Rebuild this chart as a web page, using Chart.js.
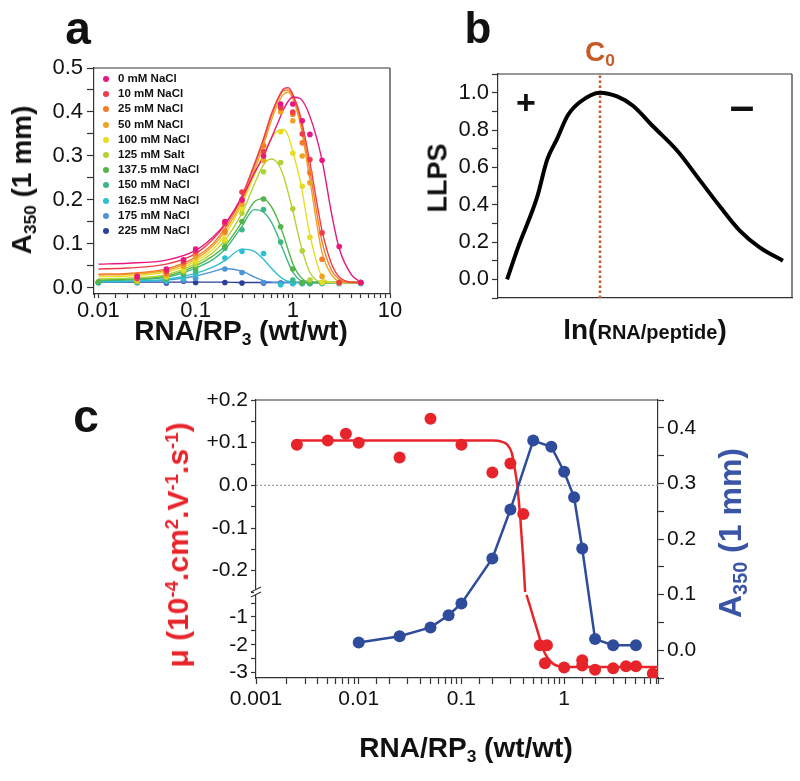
<!DOCTYPE html>
<html><head><meta charset="utf-8">
<script src="https://cdn.jsdelivr.net/npm/chart.js@4.4.1/dist/chart.umd.min.js"></script>
<style>
body{margin:0;background:#fff;width:800px;height:781px;position:relative;overflow:hidden;font-family:"Liberation Sans",Arial,sans-serif;color:#111;}
canvas{position:absolute;}
.t{position:absolute;white-space:nowrap;line-height:1;font-weight:bold;transform:translate(-50%,-50%);}
.r{transform:translate(-50%,-50%) rotate(-90deg);}
sub{font-size:0.62em;vertical-align:-0.28em;line-height:0}
sup{font-size:0.62em;vertical-align:0.55em;line-height:0}
#leg{position:absolute;left:100px;top:71px;font-weight:bold;font-size:11.5px;}
#leg div{height:15.2px;line-height:15.2px;position:relative;padding-left:18px;white-space:nowrap;}
#leg span.d{position:absolute;left:3px;top:5px;width:6px;height:6px;border-radius:50%;}
</style></head>
<body>
<canvas id="ca" width="420" height="345" style="left:0;top:0"></canvas>
<canvas id="cb" width="400" height="345" style="left:400px;top:0"></canvas>
<canvas id="cc" width="800" height="401" style="left:0;top:380px"></canvas>
<div id="leg"></div>

<div class="t" style="left:78px;top:28px;font-size:46px">a</div>
<div class="t" style="left:478px;top:28px;font-size:44px">b</div>
<div class="t" style="left:86px;top:416px;font-size:46px">c</div>

<div class="t r" style="left:22px;top:180px;font-size:28px">A<sub>350</sub> (1 mm)</div>
<div class="t" style="left:241px;top:331px;font-size:28px">RNA/RP<sub>3</sub> (wt/wt)</div>

<div class="t" style="left:600px;top:52px;font-size:28px;color:#c55a28">C<sub>0</sub></div>
<div class="t" style="left:526px;top:102px;font-size:34px">+</div>
<div class="t" style="left:742px;top:106px;font-size:44px">–</div>
<div class="t r" style="left:438px;top:178px;font-size:27px">LLPS</div>
<div class="t" style="left:645px;top:330px;"><span style="font-size:28px">ln(</span><span style="font-size:20px">RNA/peptide</span><span style="font-size:28px">)</span></div>

<div class="t r" style="left:178px;top:545px;font-size:30px;color:#e8242b">μ (10<sup>-4</sup>.cm<sup>2</sup>.V<sup>-1</sup>.s<sup>-1</sup>)</div>
<div class="t r" style="left:730px;top:533px;font-size:32px;color:#3a55a5">A<sub>350</sub> (1 mm)</div>
<div class="t" style="left:466px;top:748px;font-size:28px">RNA/RP<sub>3</sub> (wt/wt)</div>

<script>
// ---------- Panel a data ----------
const saltLabels = ['0 mM NaCl','10 mM NaCl','25 mM NaCl','50 mM NaCl','100 mM NaCl','125 mM Salt','137.5 mM NaCl','150 mM NaCl','162.5 mM NaCl','175 mM NaCl','225 mM NaCl'];
const saltColors = ['#e8177f','#ee3d4a','#f47b2a','#efa324','#e6de22','#b3d235','#55b548','#3db784','#2ebfd0','#4b94d8','#2e3f98'];
const ratioA = [0.01,0.025,0.05,0.075,0.1,0.2,0.3,0.5,0.75,1,1.25,1.5,2,3,5];
const pts0   = [null,0.026,0.043,0.064,0.088,0.151,0.200,0.300,0.418,0.418,0.380,0.349,0.290,0.094,0.012];
const pts10  = [null,0.022,0.038,0.060,0.083,0.146,0.218,0.310,0.410,0.400,0.350,0.292,0.125,0.012,0.012];
const pts25  = [null,0.026,0.033,0.056,0.078,0.129,0.198,0.323,0.409,0.395,0.330,0.262,0.065,0.012,0.012];
const pts50  = [null,0.018,0.030,0.049,0.070,0.125,0.190,0.290,0.400,0.380,0.300,0.239,0.026,0.012,0.012];
const pts100 = [null,0.016,0.027,0.041,0.060,0.110,0.180,0.290,0.355,0.306,0.231,0.115,0.012,0.012,0.012];
const pts125 = [null,0.015,0.024,0.038,0.053,0.106,0.170,0.264,0.285,0.180,0.084,0.018,0.012,0.012,0.012];
const pts137 = [0.014,0.014,0.022,0.035,0.045,0.094,0.151,0.202,0.139,0.043,0.012,0.012,0.012,0.012,0.012];
const pts150 = [0.012,0.013,0.020,0.030,0.037,0.090,0.132,0.178,0.104,0.018,0.012,0.012,0.012,0.012,0.012];
const pts162 = [0.012,0.012,0.016,0.022,0.030,0.068,0.083,0.078,0.007,0.010,0.010,0.010,0.010,0.010,0.010];
const pts175 = [0.012,0.012,0.014,0.016,0.022,0.043,0.035,0.012,0.010,0.010,0.010,0.010,0.010,0.010,0.010];
const pts225 = [0.012,0.012,0.011,0.015,0.012,0.012,0.011,0.011,0.011,0.011,0.011,0.011,0.011,0.011,0.011];

const fitX   = [0.01,0.02,0.05,0.1,0.15,0.2,0.3,0.4,0.5,0.6,0.7,0.8,0.9,1.0,1.2,1.5,2,2.5,3,4,5];
const fit0   = [0.054,0.056,0.063,0.085,0.115,0.145,0.205,0.26,0.30,0.34,0.375,0.405,0.425,0.434,0.43,0.39,0.29,0.17,0.09,0.03,0.013];
const fit10  = [0.043,0.045,0.054,0.078,0.11,0.143,0.21,0.28,0.34,0.395,0.43,0.452,0.455,0.44,0.39,0.285,0.13,0.055,0.025,0.013,0.012];
const fit25  = [0.031,0.033,0.043,0.07,0.1,0.135,0.205,0.275,0.335,0.39,0.427,0.448,0.45,0.435,0.38,0.265,0.105,0.04,0.02,0.012,0.012];
const fit50  = [0.029,0.031,0.04,0.065,0.095,0.128,0.197,0.265,0.325,0.38,0.418,0.44,0.445,0.43,0.37,0.245,0.08,0.03,0.015,0.012,0.012];
const fit100 = [0.025,0.027,0.036,0.06,0.088,0.12,0.19,0.255,0.305,0.34,0.357,0.36,0.345,0.31,0.24,0.12,0.025,0.013,0.012,0.012,0.012];
const fit125 = [0.02,0.022,0.03,0.055,0.08,0.108,0.17,0.235,0.28,0.293,0.283,0.255,0.215,0.175,0.1,0.035,0.013,0.012,0.012,0.012,0.012];
const fit137 = [0.018,0.02,0.027,0.05,0.072,0.095,0.15,0.195,0.203,0.185,0.155,0.12,0.085,0.055,0.025,0.013,0.012,0.012,0.012,0.012,0.012];
const fit150 = [0.017,0.018,0.024,0.045,0.064,0.087,0.14,0.178,0.172,0.15,0.118,0.085,0.057,0.036,0.017,0.012,0.012,0.012,0.012,0.012,0.012];
const fit162 = [0.014,0.015,0.019,0.033,0.047,0.062,0.088,0.083,0.065,0.045,0.03,0.02,0.015,0.013,0.012,0.012,0.012,0.012,0.012,0.012,0.012];
const fit175 = [0.013,0.014,0.018,0.027,0.037,0.044,0.038,0.025,0.016,0.013,0.012,0.012,0.012,0.012,0.012,0.012,0.012,0.012,0.012,0.012,0.012];
const fit225 = [0.013,0.013,0.013,0.013,0.013,0.013,0.012,0.012,0.012,0.012,0.012,0.012,0.012,0.012,0.012,0.012,0.012,0.012,0.012,0.012,0.012];
const aTicksY = [0,0.1,0.2,0.3,0.4,0.5];

// ---------- Panel b data ----------
const lnRatio = [0.31,0.68,1.33,1.67,2.0,2.38,2.79,3.47,4.05,4.59,5.27,6.09,6.87,7.55,8.23,8.91,9.69];
const llps    = [0,0.17,0.44,0.64,0.75,0.88,0.95,1.0,0.98,0.93,0.82,0.69,0.53,0.39,0.26,0.17,0.10];
const c0 = 3.47;

// ---------- Panel c data ----------
const muRatioHi = [0.0025,0.005,0.0075,0.01,0.025,0.05,0.1,0.2,0.3,0.4];
const muHi      = [0.095,0.105,0.121,0.100,0.065,0.156,0.095,0.030,0.051,-0.067];
const muRatioLo = [0.58,0.68,0.65,1,1.5,1.5,2,3,4,5,7.3];
const muLo      = [-2.02,-2.02,-2.67,-2.82,-2.56,-2.75,-2.9,-2.85,-2.78,-2.78,-3.04];
const muFitXHi  = [0.0024,0.1,0.2,0.25,0.28,0.31,0.33,0.35,0.375,0.4,0.417];
const muFitHi   = [0.105,0.105,0.105,0.102,0.095,0.075,0.04,0.0,-0.08,-0.175,-0.25];
const muFitXLo  = [0.43,0.46,0.5,0.54,0.585,0.63,0.68,0.79,0.9,1.2,8.2];
const muFitLo   = [-0.2,-0.55,-1.0,-1.4,-1.84,-2.2,-2.44,-2.7,-2.78,-2.8,-2.8];
const a350Ratio = [0.01,0.025,0.05,0.075,0.1,0.2,0.3,0.5,0.75,1,1.25,1.5,2,3,5];
const a350      = [0.014,0.025,0.041,0.063,0.084,0.165,0.253,0.377,0.366,0.321,0.275,0.183,0.02,0.009,0.009];
const cXmin = 0.001, cXmax = 8.2;

// ---------- helpers ----------
Chart.defaults.font.family = '"Liberation Sans", Arial, sans-serif';
Chart.defaults.color = '#111';
const AX = '#333';
function fix(w, h){ return s => { if (w !== undefined) s.width = w; if (h !== undefined) s.height = h; s.paddingLeft=0; s.paddingRight=0; s.paddingTop=0; s.paddingBottom=0; }; }
function decadeLabel(v){ const l=Math.log10(v), r=Math.round(l); if (Math.abs(l-r)>1e-6) return ''; return r<0 ? Math.pow(10,r).toFixed(-r) : String(Math.pow(10,r)); }
function tenth(v){ const k=Math.round(v*10); return Math.abs(v*10-k)<1e-6 ? k : null; }
const zip = (xs, ys) => xs.map((x,i)=>({x, y: ys[i]}));
const framePlugin = { id:'frame', afterDraw(chart, args, opts){
  const {ctx, chartArea:a} = chart; ctx.save(); ctx.strokeStyle=AX; ctx.lineWidth=1.2; ctx.beginPath();
  (opts.sides||[]).forEach(s=>{ if(s==='top'){ctx.moveTo(a.left,a.top);ctx.lineTo(a.right,a.top);} if(s==='right'){ctx.moveTo(a.right,a.top);ctx.lineTo(a.right,a.bottom);} });
  ctx.stroke(); ctx.restore(); } };
const breakPlugin = { id:'brk', afterDraw(chart){
  const s = chart.scales.yU; if(!s) return; const {ctx} = chart; const x = chart.chartArea.left, y = s.bottom;
  ctx.save(); ctx.fillStyle='#fff'; ctx.fillRect(x-2,y-3,4,6);
  ctx.strokeStyle=AX; ctx.lineWidth=1.1;
  [-2.5,2.5].forEach(d=>{ ctx.beginPath(); ctx.moveTo(x-5,y+d+2.5); ctx.lineTo(x+5,y+d-2.5); ctx.stroke(); });
  ctx.restore(); } };
const base = { responsive:false, animation:false, devicePixelRatio:1, events:[] };

// ---------- legend (panel a) ----------
const leg = document.getElementById('leg');
saltLabels.forEach((l,i)=>{ const d=document.createElement('div'); d.innerHTML='<span class="d" style="background:'+saltColors[i]+'"></span>'+l; leg.appendChild(d); });

// ---------- Panel a ----------
const ptsAll = [pts0,pts10,pts25,pts50,pts100,pts125,pts137,pts150,pts162,pts175,pts225];
const fitAll = [fit0,fit10,fit25,fit50,fit100,fit125,fit137,fit150,fit162,fit175,fit225];
const dsA = [];
ptsAll.forEach((p,i)=>dsA.push({label:saltLabels[i], data:zip(ratioA,p).filter(d=>d.y!==null), backgroundColor:saltColors[i], borderWidth:0, pointRadius:2.8}));
fitAll.forEach((f,i)=>dsA.push({label:saltLabels[i]+' fit', data:zip(fitX,f), showLine:true, borderColor:saltColors[i], borderWidth:1.4, pointRadius:0, cubicInterpolationMode:'monotone'}));
new Chart(document.getElementById('ca'), {
  type:'scatter', data:{datasets:dsA}, plugins:[framePlugin],
  options:{...base, layout:{padding:{top:68,right:30,left:0,bottom:0}},
    plugins:{legend:{display:false}, tooltip:{enabled:false}, frame:{sides:['top','right']}},
    scales:{
      x:{type:'logarithmic', min:0.009, max:10, afterFit:fix(undefined,51),
        ticks:{autoSkip:false, maxRotation:0, font:{size:22}, color:'#111', padding:0, callback:decadeLabel},
        grid:{drawOnChartArea:false, tickLength:4, tickColor:AX, tickWidth:1.2}, border:{color:AX, width:1.2}},
      y:{min:-0.014, max:0.5, afterFit:fix(94),
        ticks:{autoSkip:false, stepSize:0.05, includeBounds:false, font:{size:22}, color:'#111', padding:4,
          callback:v=>{ const k=tenth(v); return (k!==null && aTicksY.includes(k/10)) ? (k/10).toFixed(1) : ''; }},
        grid:{drawOnChartArea:false, tickLength:7, tickColor:AX, tickWidth:1.2}, border:{color:AX, width:1.2}}
    }}
});

// ---------- Panel b ----------
new Chart(document.getElementById('cb'), {
  type:'scatter', plugins:[framePlugin],
  data:{datasets:[
    {label:'LLPS', data:zip(lnRatio,llps), showLine:true, borderColor:'#000', borderWidth:4, pointRadius:0, cubicInterpolationMode:'monotone'},
    {label:'C0', data:[{x:c0,y:-0.1},{x:c0,y:1.1}], showLine:true, borderColor:'#c55a28', borderWidth:2.5, borderDash:[2.5,2.5], pointRadius:0}
  ]},
  options:{...base, layout:{padding:{top:74,right:8,left:0,bottom:0}},
    plugins:{legend:{display:false}, tooltip:{enabled:false}, frame:{sides:['top','right']}},
    scales:{
      x:{type:'linear', min:0, max:10, afterFit:fix(undefined,47), ticks:{display:false},
        grid:{drawOnChartArea:false, drawTicks:false}, border:{color:AX, width:1.2}},
      y:{min:-0.1, max:1.1, afterFit:fix(98),
        ticks:{autoSkip:false, stepSize:0.1, font:{size:22}, color:'#111', padding:3,
          callback:v=>{ const k=tenth(v); return (k!==null && k>=0 && k<=10 && k%2===0) ? (k/10).toFixed(1) : ''; }},
        grid:{drawOnChartArea:false, tickLength:6, tickColor:AX, tickWidth:1.2}, border:{color:AX, width:1.2}}
    }}
});

// ---------- Panel c ----------
const RED = '#e8242b', BLUE = '#2f4c9c';
new Chart(document.getElementById('cc'), {
  type:'scatter', plugins:[framePlugin, breakPlugin],
  data:{datasets:[
    {label:'μ', data:zip(muRatioHi,muHi), yAxisID:'yU', backgroundColor:RED, borderWidth:0, pointRadius:6},
    {label:'μ (low)', data:zip(muRatioLo,muLo), yAxisID:'yL', backgroundColor:RED, borderWidth:0, pointRadius:6},
    {label:'A350', data:zip(a350Ratio,a350), yAxisID:'yA', showLine:true, borderColor:BLUE, backgroundColor:BLUE, borderWidth:2.5, pointRadius:6, pointBorderWidth:0},
    {label:'μ fit', data:zip(muFitXHi,muFitHi), yAxisID:'yU', showLine:true, borderColor:RED, borderWidth:2.5, pointRadius:0, cubicInterpolationMode:'monotone'},
    {label:'μ fit (low)', data:zip(muFitXLo,muFitLo), yAxisID:'yL', showLine:true, borderColor:RED, borderWidth:2.5, pointRadius:0, cubicInterpolationMode:'monotone'},
    {label:'zero', data:[{x:cXmin,y:0},{x:cXmax,y:0}], yAxisID:'yU', showLine:true, borderColor:'#9a9a9a', borderWidth:1.2, borderDash:[2,2], pointRadius:0}
  ]},
  options:{...base, layout:{padding:{top:20,right:0,left:0,bottom:0}},
    plugins:{legend:{display:false}, tooltip:{enabled:false}, frame:{sides:['top']}},
    scales:{
      x:{type:'logarithmic', min:cXmin, max:cXmax, afterFit:fix(undefined,103),
        ticks:{autoSkip:false, maxRotation:0, font:{size:21}, color:'#111', padding:3, callback:decadeLabel},
        grid:{drawOnChartArea:false, tickLength:6, tickColor:AX, tickWidth:1.2}, border:{color:AX, width:1.2}},
      yU:{position:'left', stack:'mu', stackWeight:192, weight:1, min:-0.25, max:0.2, afterFit:fix(256),
        ticks:{autoSkip:false, stepSize:0.05, font:{size:21}, color:'#111', padding:3,
          callback:v=>{ const k=tenth(v); if(k===null) return ''; return k>0 ? '+'+(k/10).toFixed(1) : (k/10).toFixed(1); }},
        grid:{drawOnChartArea:false, tickLength:5, tickColor:AX, tickWidth:1.2}, border:{color:AX, width:1.2}},
      yL:{position:'left', stack:'mu', stackWeight:86, weight:0, min:-3.2, max:-0.1, afterFit:fix(256),
        ticks:{autoSkip:false, stepSize:0.5, includeBounds:false, font:{size:21}, color:'#111', padding:3,
          callback:v=> Number.isInteger(v) ? String(v) : ''},
        grid:{drawOnChartArea:false, tickLength:5, tickColor:AX, tickWidth:1.2}, border:{color:AX, width:1.2}},
      yA:{position:'right', min:-0.05, max:0.45, afterFit:fix(142),
        ticks:{autoSkip:false, stepSize:0.05, includeBounds:false, font:{size:21}, color:'#111', padding:3,
          callback:v=>{ const k=tenth(v); return (k!==null && k>=0 && k<=4) ? (k/10).toFixed(1) : ''; }},
        grid:{drawOnChartArea:false, tickLength:6, tickColor:AX, tickWidth:1.2}, border:{color:AX, width:1.2}}
    }}
});
</script>
</body></html>
